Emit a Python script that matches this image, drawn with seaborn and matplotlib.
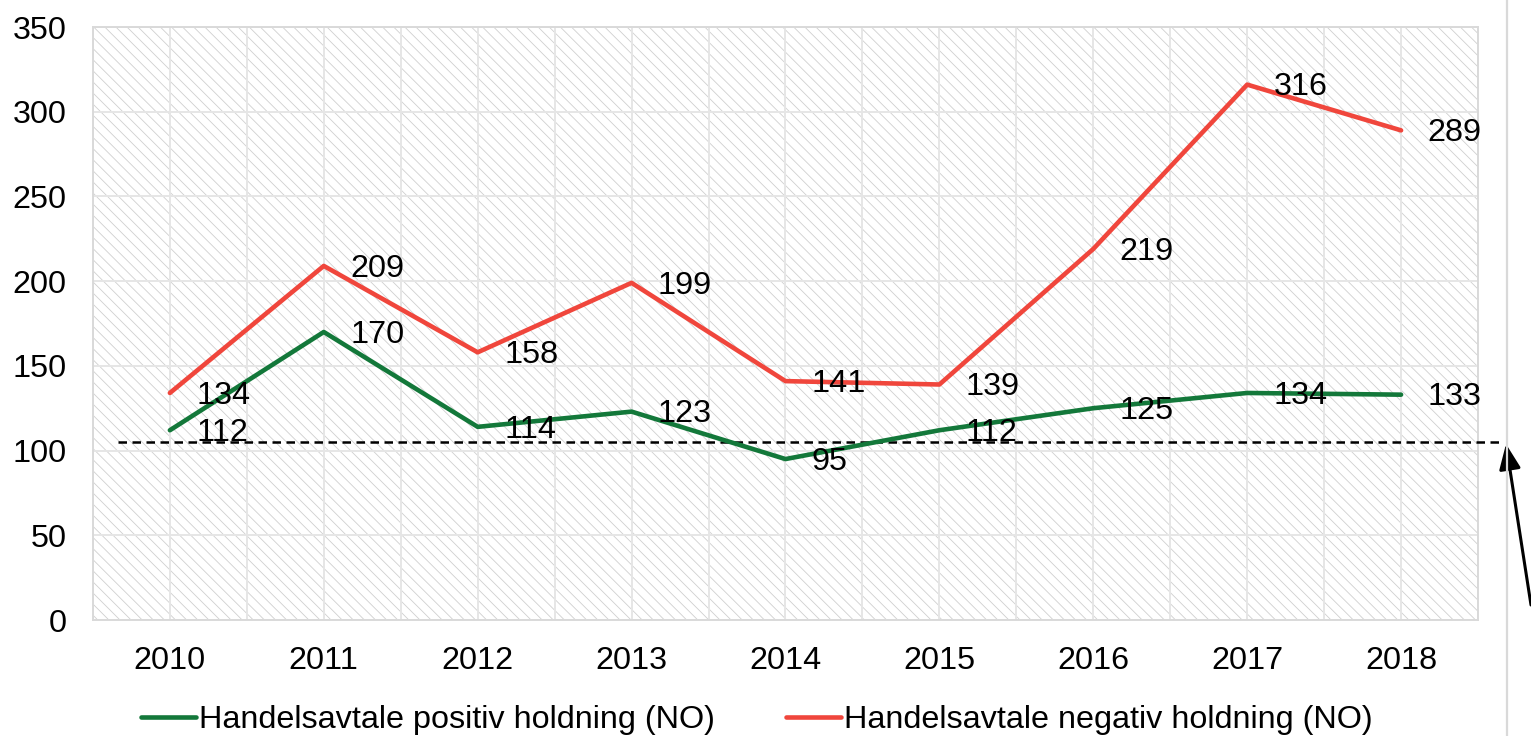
import pandas as pd
import numpy as np
import matplotlib
matplotlib.use('Agg')
import matplotlib.pyplot as plt
from matplotlib.patches import Rectangle
from matplotlib.lines import Line2D
from matplotlib.ticker import MultipleLocator
import seaborn as sns

# Data
years = [2010, 2011, 2012, 2013, 2014, 2015, 2016, 2017, 2018]
positive = [112, 170, 114, 123, 95, 112, 125, 134, 133]
negative = [134, 209, 158, 199, 141, 139, 219, 316, 289]
series_names = ['Handelsavtale positiv holdning (NO)',
                'Handelsavtale negativ holdning (NO)']
reference_level = 105

COLORS = {
    series_names[0]: '#13783a',
    series_names[1]: '#f0463c',
}

sns.set_style('white')
plt.rcParams['font.family'] = ['Liberation Sans', 'DejaVu Sans']
plt.rcParams['hatch.linewidth'] = 0.6
plt.rcParams['text.color'] = 'black'
plt.rcParams['xtick.color'] = 'black'
plt.rcParams['ytick.color'] = 'black'

df = pd.DataFrame({
    'year': years * 2,
    'value': positive + negative,
    'series': [series_names[0]] * len(years) + [series_names[1]] * len(years),
})

fig = plt.figure(figsize=(15.31, 7.36), dpi=100)
ax = fig.add_axes([0.0607, 0.1576, 0.9047, 0.8057])

# hatched plot-area background
ax.add_patch(Rectangle((0, 0), 1, 1, transform=ax.transAxes, facecolor='white',
                       edgecolor='#cfcfcf', hatch='\\\\\\', linewidth=0, zorder=0))

sns.lineplot(data=df, x='year', y='value', hue='series', palette=COLORS,
             linewidth=3.3, ax=ax, legend=False, zorder=4)

# dashed reference line, running past the plot area
ax.plot([2009.66, 2018.67], [reference_level, reference_level], color='black',
        linestyle=(0, (3.4, 2.2)), linewidth=1.8, clip_on=False, zorder=3)

fs = 23.3
for vals in (positive, negative):
    for x, v in zip(years, vals):
        ax.annotate(str(v), (x, v), xytext=(19, -2), textcoords='offset points',
                    ha='left', va='center', fontsize=fs, color='black', zorder=5)

ax.set_xlim(2009.5, 2018.5)
ax.set_ylim(0, 350)
ax.set_xticks(years)
ax.set_xticklabels([str(y) for y in years])
ax.xaxis.set_minor_locator(MultipleLocator(0.5))
ax.set_yticks(range(0, 351, 50))
ax.grid(True, which='both', axis='both', color='#e6e6e6', linewidth=1.4, zorder=1)
ax.set_axisbelow(True)
ax.tick_params(axis='x', which='both', length=0, pad=19, labelsize=fs)
ax.tick_params(axis='y', length=0, pad=19, labelsize=fs)
ax.set_xlabel('')
ax.set_ylabel('')
for s in ax.spines.values():
    s.set_color('#d9d9d9')
    s.set_linewidth(1.4)

# legend below the chart
handles = [Line2D([], [], color=COLORS[n], linewidth=3.3) for n in series_names]
fig.legend(handles, series_names, loc='center', bbox_to_anchor=(757 / 1531, 1 - 720 / 736),
           ncol=2, frameon=False, fontsize=fs, handlelength=1.7, handletextpad=0.1,
           columnspacing=2.2)

# thin vertical border line on the right and the pointing arrow
fig.add_artist(Line2D([1507 / 1531, 1507 / 1531], [0, 1], transform=fig.transFigure,
                      color='#d9d9d9', linewidth=1.6))
ax.annotate('', xy=(1506 / 1531, 1 - 444 / 736), xycoords='figure fraction',
            xytext=(1531 / 1531, 1 - 605 / 736), textcoords='figure fraction',
            arrowprops=dict(arrowstyle='-|>,head_length=0.7,head_width=0.3',
                            color='black', lw=2.2, mutation_scale=22,
                            shrinkA=0, shrinkB=0))

fig.savefig('out.png', dpi=100)
